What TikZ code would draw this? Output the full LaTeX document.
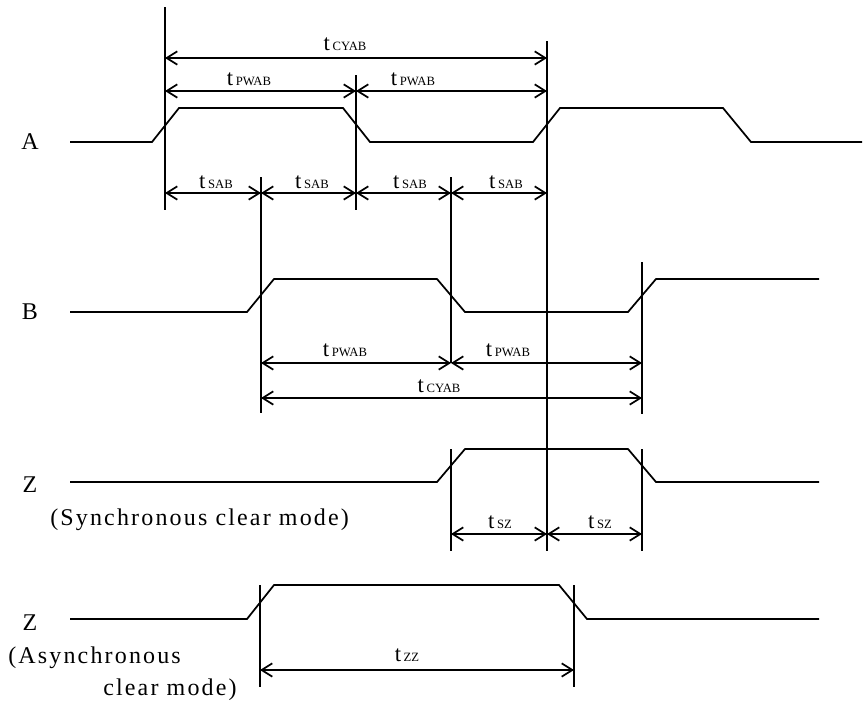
\documentclass[tikz,border=0pt]{standalone}
\usepackage{fontspec}
\setmainfont{Liberation Serif}
\newfontfamily\spacedfont[LetterSpace=9]{Liberation Serif}
\usetikzlibrary{arrows.meta}
\newcommand{\tsublab}[1]{{\fontsize{17pt}{18pt}\selectfont t}\hspace{2pt}{\fontsize{9.5pt}{10pt}\selectfont #1}}
\begin{document}
\begin{tikzpicture}[x=0.75pt,y=-0.75pt,
  sig/.style={line width=1.3pt, line join=miter},
  guide/.style={line width=1.3pt},
  dim/.style={line width=1.3pt, {Straight Barb[length=8pt,width=10pt]}-{Straight Barb[length=8pt,width=10pt]}},
  lab/.style={font=\fontsize{18pt}{20pt}\selectfont, inner sep=0pt},
  note/.style={font=\fontsize{18pt}{20pt}\spacedfont, inner sep=0pt, anchor=west}]
\useasboundingbox (0,0) rectangle (864,704);

% signal names
\node[lab] (nA) at (30,142) {A};
\node[lab] (nB) at (30,312) {B};
\node[lab] (nZ1) at (30,485) {Z};
\node[lab] (nZ2) at (30,623) {Z};
\node[note] (m1) at (50,520) {(Synchronous clear mode)};
\node[note] (m2) at (8,658) {(Asynchronous};
\node[note] (m3) at (103,690) {clear mode)};

% waveforms
\draw[sig] (70,142) -- (152,142) -- (179,108) -- (343,108) -- (370,142) -- (533,142) -- (560,108) -- (723,108) -- (751,142) -- (862,142);
\draw[sig] (70,312) -- (247,312) -- (274,279) -- (437,279) -- (465,312) -- (628,312) -- (656,279) -- (819,279);
\draw[sig] (70,482) -- (437,482) -- (465,449) -- (628,449) -- (656,482) -- (819,482);
\draw[sig] (70,619) -- (247,619) -- (274,585) -- (559,585) -- (587,619) -- (819,619);

% vertical reference lines
\coordinate (v1t) at (165,7);   \coordinate (v1b) at (165,210);
\coordinate (v2t) at (356,75);  \coordinate (v2b) at (356,210);
\coordinate (v3t) at (547,41);  \coordinate (v3b) at (547,551);
\coordinate (v4t) at (261,177); \coordinate (v4b) at (261,413);
\coordinate (v5t) at (451,177); \coordinate (v5b) at (451,363);
\coordinate (v6t) at (642,262); \coordinate (v6b) at (642,414);
\coordinate (v7t) at (451,449); \coordinate (v7b) at (451,551);
\coordinate (v8t) at (642,449); \coordinate (v8b) at (642,551);
\coordinate (v9t) at (260,585); \coordinate (v9b) at (260,687);
\coordinate (v10t) at (574,585); \coordinate (v10b) at (574,687);
\foreach \i in {1,...,10} \draw[guide] (v\i t) -- (v\i b);

% dimension points
\coordinate (c1a) at (165,58);  \coordinate (c1b) at (547,58);
\coordinate (p1a) at (165,91);  \coordinate (p1b) at (356,91);  \coordinate (p1c) at (547,91);
\coordinate (s1a) at (165,193); \coordinate (s1b) at (261,193); \coordinate (s1c) at (356,193); \coordinate (s1d) at (451,193); \coordinate (s1e) at (547,193);
\coordinate (p2a) at (261,363); \coordinate (p2b) at (451,363); \coordinate (p2c) at (642,363);
\coordinate (c2a) at (261,398); \coordinate (c2b) at (642,398);
\coordinate (z1a) at (451,534); \coordinate (z1b) at (547,534); \coordinate (z1c) at (642,534);
\coordinate (z2a) at (260,670); \coordinate (z2b) at (574,670);

\draw[dim] (c1a) -- (c1b);
\draw[dim] (p1a) -- (p1b);
\draw[dim] (p1b) -- (p1c);
\draw[dim] (s1a) -- (s1b);
\draw[dim] (s1b) -- (s1c);
\draw[dim] (s1c) -- (s1d);
\draw[dim] (s1d) -- (s1e);
\draw[dim] (p2a) -- (p2b);
\draw[dim] (p2b) -- (p2c);
\draw[dim] (c2a) -- (c2b);
\draw[dim] (z1a) -- (z1b);
\draw[dim] (z1b) -- (z1c);
\draw[dim] (z2a) -- (z2b);

% timing labels
\node[lab] (lc1) at (345,44) {\tsublab{CYAB}};
\node[lab] (lp1) at (249,79) {\tsublab{PWAB}};
\node[lab] (lp2) at (413,79) {\tsublab{PWAB}};
\node[lab] (ls1) at (216,182) {\tsublab{SAB}};
\node[lab] (ls2) at (312,182) {\tsublab{SAB}};
\node[lab] (ls3) at (410,182) {\tsublab{SAB}};
\node[lab] (ls4) at (506,182) {\tsublab{SAB}};
\node[lab] (lp3) at (345,350) {\tsublab{PWAB}};
\node[lab] (lp4) at (508,350) {\tsublab{PWAB}};
\node[lab] (lc2) at (439,386) {\tsublab{CYAB}};
\node[lab] (lz1) at (500,522) {\tsublab{SZ}};
\node[lab] (lz2) at (600,522) {\tsublab{SZ}};
\node[lab] (lz3) at (407,655) {\tsublab{ZZ}};
\end{tikzpicture}
\end{document}
